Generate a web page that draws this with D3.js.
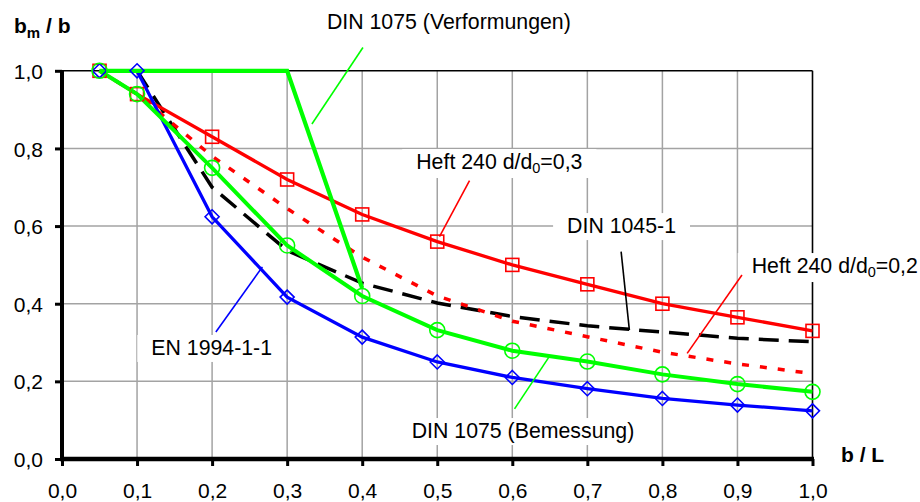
<!DOCTYPE html>
<html>
<head>
<meta charset="utf-8">
<script src="https://cdn.jsdelivr.net/npm/d3@7"></script>
<style>
  html, body { margin: 0; padding: 0; background: #fff; }
  svg { display: block; font-family: "Liberation Sans", Arial, sans-serif; }
</style>
</head>
<body>
<svg id="chart" width="920" height="502"></svg>
<script>
// b/L positions and the effective-width ratios b_m/b of each design rule
const xFull = [0.05, 0.1, 0.2, 0.3, 0.4, 0.5, 0.6, 0.7, 0.8, 0.9, 1.0];
const heft240_03 = [1.0, 0.94, 0.83, 0.72, 0.63, 0.56, 0.50, 0.45, 0.40, 0.365, 0.33];
const heft240_02 = [1.0, 0.94, 0.78, 0.645, 0.52, 0.42, 0.355, 0.315, 0.275, 0.245, 0.22];
const xDin1045 = [0.1, 0.2, 0.3, 0.4, 0.5, 0.6, 0.7, 0.8, 0.9, 1.0];
const din1045 = [1.0, 0.70, 0.537, 0.453, 0.402, 0.367, 0.343, 0.327, 0.311, 0.302];
const din1075Bem = [1.0, 0.94, 0.75, 0.55, 0.42, 0.332, 0.279, 0.251, 0.218, 0.193, 0.173];
const xDin1075Verf = [0.05, 0.1, 0.2, 0.3, 0.4];
const din1075Verf = [1.0, 1.0, 1.0, 1.0, 0.44];
const en1994 = [1.0, 1.0, 0.624, 0.417, 0.314, 0.25, 0.21, 0.181, 0.156, 0.139, 0.124];

const xTicks = [0, 0.1, 0.2, 0.3, 0.4, 0.5, 0.6, 0.7, 0.8, 0.9, 1.0];
const yTicks = [0, 0.2, 0.4, 0.6, 0.8, 1.0];

const svg = d3.select("#chart");
const x = d3.scaleLinear().domain([0, 1]).range([62, 812.5]);
const y = d3.scaleLinear().domain([0, 1]).range([459, 70.8]);

const de = d3.formatLocale({ decimal: ",", thousands: ".", grouping: [3], currency: ["", " €"] });
const fmt = de.format(".1f");

// grid
const grid = svg.append("g").attr("stroke", "#a3a3a3").attr("stroke-width", 1.5);
grid.selectAll("line.v").data(xTicks.filter(d => d > 0 && d < 1)).join("line")
  .attr("x1", d => x(d)).attr("x2", d => x(d)).attr("y1", y(0)).attr("y2", y(1));
grid.selectAll("line.h").data(yTicks.filter(d => d > 0 && d < 1)).join("line")
  .attr("x1", x(0)).attr("x2", x(1)).attr("y1", d => y(d)).attr("y2", d => y(d));

// plot frame: thin top/right, heavy axes
svg.append("line").attr("x1", x(0)).attr("x2", x(1)).attr("y1", y(1)).attr("y2", y(1))
  .attr("stroke", "#000").attr("stroke-width", 1.6);
svg.append("line").attr("x1", x(1)).attr("x2", x(1)).attr("y1", y(1)).attr("y2", y(0))
  .attr("stroke", "#000").attr("stroke-width", 1.6);

const xAxis = svg.append("g").attr("transform", `translate(0,${y(0)})`)
  .call(d3.axisBottom(x).tickValues(xTicks).tickSize(7).tickPadding(17).tickFormat(fmt));
const yAxis = svg.append("g").attr("transform", `translate(${x(0)},0)`)
  .call(d3.axisLeft(y).tickValues(yTicks).tickSize(7).tickPadding(12).tickFormat(fmt));
[xAxis, yAxis].forEach(g => {
  g.select(".domain").remove();
  g.selectAll(".tick line").attr("stroke", "#000").attr("stroke-width", 3);
  g.selectAll(".tick text").attr("fill", "#000").style("font-size", "21px");
});
xAxis.selectAll(".tick text").attr("dy", "0.71em");
yAxis.selectAll(".tick text").attr("dy", "0.36em");

svg.append("line").attr("x1", x(0)).attr("x2", x(0)).attr("y1", y(1)).attr("y2", y(0) + 2)
  .attr("stroke", "#000").attr("stroke-width", 4);
svg.append("line").attr("x1", x(0) - 2).attr("x2", x(1) + 1.5).attr("y1", y(0)).attr("y2", y(0))
  .attr("stroke", "#000").attr("stroke-width", 4.5);

// axis titles
const t1 = svg.append("text").attr("x", 14).attr("y", 33)
  .style("font-size", "21px").style("font-weight", "bold");
t1.append("tspan").text("b");
t1.append("tspan").attr("dy", 5).style("font-size", "15px").text("m");
t1.append("tspan").attr("dy", -5).text(" / b");
svg.append("text").attr("x", 841).attr("y", 462)
  .style("font-size", "21px").style("font-weight", "bold").text("b / L");

// series
const line = d3.line().x(d => x(d[0])).y(d => y(d[1]));
const pts = (xs, ys) => xs.map((v, i) => [v, ys[i]]);
const series = svg.append("g").attr("fill", "none");

series.append("path").datum(pts(xDin1045, din1045)).attr("d", line)
  .attr("stroke", "#000").attr("stroke-width", 3.5).attr("stroke-dasharray", "20,10");
series.append("path").datum(pts(xFull, heft240_02)).attr("d", line)
  .attr("stroke", "#ff0000").attr("stroke-width", 3.5).attr("stroke-dasharray", "7,11");
series.append("path").datum(pts(xFull, heft240_03)).attr("d", line)
  .attr("stroke", "#ff0000").attr("stroke-width", 3.3);
series.append("path").datum(pts(xFull, en1994)).attr("d", line)
  .attr("stroke", "#0000ff").attr("stroke-width", 3.3);
series.append("path").datum(pts(xFull, din1075Bem)).attr("d", line)
  .attr("stroke", "#00ff00").attr("stroke-width", 4);
series.append("path").datum(pts(xDin1075Verf, din1075Verf)).attr("d", line)
  .attr("stroke", "#00ff00").attr("stroke-width", 4.2);

// markers
const mk = svg.append("g").attr("fill", "none").attr("stroke-width", 1.6);
mk.selectAll("rect").data(pts(xFull, heft240_03)).join("rect")
  .attr("x", d => x(d[0]) - 6.5).attr("y", d => y(d[1]) - 6.5)
  .attr("width", 13).attr("height", 13).attr("stroke", "#ff0000");
mk.selectAll("path.dia").data(pts(xFull, en1994)).join("path").attr("class", "dia")
  .attr("d", d => { const cx = x(d[0]), cy = y(d[1]), r = 7;
    return `M${cx},${cy - r}L${cx + r},${cy}L${cx},${cy + r}L${cx - r},${cy}Z`; })
  .attr("stroke", "#0000ff");
mk.selectAll("circle").data(pts(xFull, din1075Bem)).join("circle")
  .attr("cx", d => x(d[0])).attr("cy", d => y(d[1])).attr("r", 7.5).attr("stroke", "#00ff00");

// callouts: label text, white backing box, leader line (all in data units)
const labels = [
  { text: ["DIN 1075 (Verformungen)"], tx: 0.353, ty: 1.108, box: false, color: "#00ff00", from: [0.401, 1.060], to: [0.333, 0.863] },
  { text: ["Heft 240 d/d", "0", "=0,3"], tx: 0.472, ty: 0.747, box: true, color: "#ff0000", from: [0.543, 0.717], to: [0.503, 0.573] },
  { text: ["DIN 1045-1"], tx: 0.673, ty: 0.582, box: true, color: "#000000", from: [0.745, 0.534], to: [0.756, 0.332] },
  { text: ["Heft 240 d/d", "0", "=0,2"], tx: 0.919, ty: 0.479, box: true, color: "#ff0000", from: [0.906, 0.474], to: [0.833, 0.272] },
  { text: ["DIN 1075 (Bemessung)"], tx: 0.466, ty: 0.054, box: true, color: "#00ff00", from: [0.649, 0.263], to: [0.603, 0.129] },
  { text: ["EN 1994-1-1"], tx: 0.119, ty: 0.268, box: true, color: "#0000ff", from: [0.267, 0.495], to: [0.205, 0.327] }
];
const ann = svg.append("g");
labels.forEach(l => {
  const g = ann.append("g");
  const rect = g.append("rect").attr("fill", "#fff");
  const t = g.append("text").attr("x", x(l.tx)).attr("y", y(l.ty))
    .style("font-size", "21.3px").attr("fill", "#000");
  t.append("tspan").text(l.text[0]);
  if (l.text.length > 1) {
    t.append("tspan").attr("dy", 4).style("font-size", "14.5px").text(l.text[1]);
    t.append("tspan").attr("dy", -4).text(l.text[2]);
  }
  if (l.box) {
    const b = t.node().getBBox();
    rect.attr("x", b.x - 14).attr("y", b.y - 1).attr("width", b.width + 28).attr("height", b.height + 3);
  } else rect.remove();
  ann.append("line").attr("x1", x(l.from[0])).attr("y1", y(l.from[1]))
    .attr("x2", x(l.to[0])).attr("y2", y(l.to[1]))
    .attr("stroke", l.color).attr("stroke-width", 1.6);
});
</script>
</body>
</html>
